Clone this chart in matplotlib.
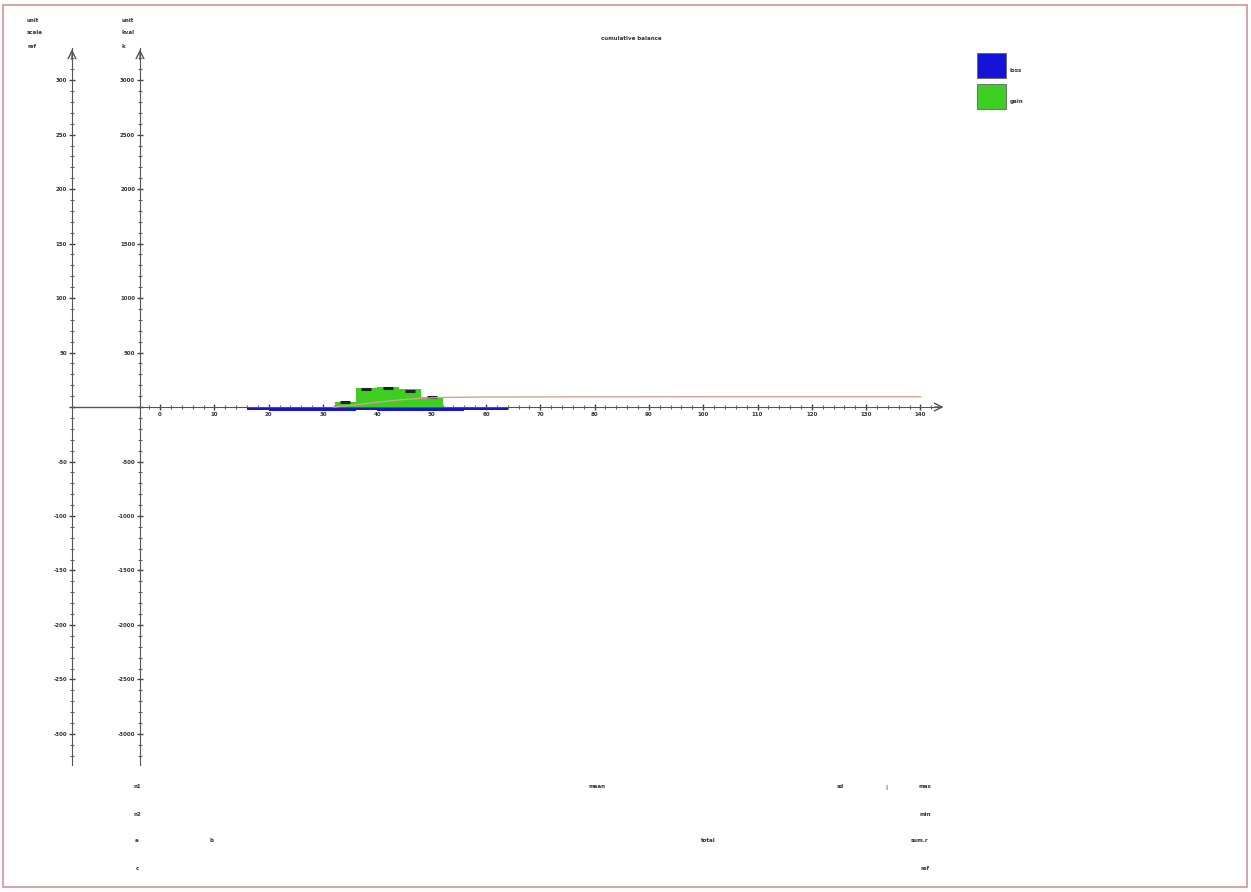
import matplotlib
matplotlib.use("Agg")
import matplotlib.pyplot as plt
from matplotlib.patches import Rectangle
from matplotlib.ticker import MultipleLocator, FuncFormatter
import numpy as np

# data (x in 10s, y in units of the inner axis)
x_ticks = [0, 10, 20, 30, 40, 50, 60, 70, 80, 90, 100, 110, 120, 130, 140]

gain_x = [30.5, 34, 38, 42, 46, 50, 54]
gain_y = [0, 45, 175, 180, 170, 90, 0]

loss_x = [14, 18, 22, 26, 30, 34, 38, 42, 46, 50, 54, 58, 62, 66]
loss_y = [0, -25, -35, -35, -40, -35, -30, -35, -40, -40, -35, -30, -25, 0]

trend_x = [32, 36, 40, 44, 48, 52, 60, 80, 100, 120, 140]
trend_y = [0, 20, 45, 65, 80, 88, 92, 94, 95, 95, 95]

cap_x = [34, 38, 42, 46, 50]
cap_y = [45, 165, 175, 145, 90]

legend_names = ["loss", "gain"]

blue = "#1414d8"
green = "#3ccf22"
txt = "#333333"
fs = 4

fig = plt.figure(figsize=(12.51, 8.92), dpi=100)
W, H = 1251, 892

# axes between pixel x 140..940 and y 48..765
ax = fig.add_axes([140 / W, 1 - 765 / H, 800 / W, 717 / H])
ax.set_xlim(-3.7, 143.6)
ax.set_ylim(-3285, 3295)

ax.fill_between(loss_x, loss_y, 0, step="mid", color=blue, lw=0, zorder=2)
ax.fill_between(gain_x, gain_y, 0, step="mid", color=green, lw=0, zorder=3)
ax.plot(cap_x, cap_y, ls="none", marker="_", ms=7, mew=2.2, color="#222222", zorder=4)
ax.plot(trend_x, trend_y, color="#d9a090", lw=1, zorder=4)

for s in ["top", "right"]:
    ax.spines[s].set_visible(False)
ax.spines["bottom"].set_position(("data", 0))
ax.spines["bottom"].set_color("#555555")
ax.spines["left"].set_color("#555555")

no_zero = FuncFormatter(lambda v, p: "" if abs(v) < 1e-9 else "%d" % v)

ax.set_xticks(x_ticks)
ax.xaxis.set_minor_locator(MultipleLocator(2))
ax.yaxis.set_major_locator(MultipleLocator(500))
ax.yaxis.set_minor_locator(MultipleLocator(100))
ax.yaxis.set_major_formatter(no_zero)
ax.tick_params(axis="both", which="major", direction="inout", length=5, width=1,
               labelsize=fs, labelcolor=txt, pad=1, color="#444444")
ax.tick_params(axis="both", which="minor", direction="inout", length=3, width=0.8,
               color="#666666")
for t in ax.get_xticklabels() + ax.get_yticklabels():
    t.set_fontweight("bold")

# outer axis
off = -68 / 800
sec = ax.secondary_yaxis(off, functions=(lambda y: y / 10, lambda y: y * 10))
sec.yaxis.set_major_locator(MultipleLocator(50))
sec.yaxis.set_minor_locator(MultipleLocator(10))
sec.yaxis.set_major_formatter(no_zero)
sec.spines["left"].set_color("#555555")
sec.tick_params(axis="y", which="major", direction="inout", length=5, width=1,
                labelsize=fs, labelcolor=txt, pad=1, color="#444444")
sec.tick_params(axis="y", which="minor", direction="inout", length=3, width=0.8,
                color="#666666")
for t in sec.get_yticklabels():
    t.set_fontweight("bold")

ytr = ax.get_yaxis_transform()
ax.plot([off, 0], [0, 0], color="#555555", lw=1, transform=ytr, clip_on=False)

# arrows
arr = dict(arrowstyle="->", color="#555555", lw=1, mutation_scale=14)
ax.annotate("", xy=(1.008, 0), xytext=(0.99, 0), xycoords=ytr, textcoords=ytr, arrowprops=arr)
for xa in [0, off]:
    ax.annotate("", xy=(xa, 1.002), xytext=(xa, 0.98), xycoords="axes fraction",
                textcoords="axes fraction", arrowprops=arr)

# title and axis captions
fig.text(631 / W, 1 - 39 / H, "cumulative balance", ha="center", va="center",
         fontsize=fs, fontweight="bold", color=txt)
for x0, lines in [(27, ["unit", "scale", "ref"]), (122, ["unit", "kval", "k"])]:
    for i, s in enumerate(lines):
        fig.text(x0 / W, 1 - (20 + 13 * i) / H, s, ha="left", va="center",
                 fontsize=fs, fontweight="bold", color=txt)

# legend boxes
for i, (name, c) in enumerate(zip(legend_names, [blue, green])):
    y0 = 53 + 31 * i
    fig.patches.append(Rectangle((977 / W, 1 - (y0 + 25) / H), 29 / W, 25 / H,
                                 transform=fig.transFigure, facecolor=c,
                                 edgecolor="#666666", lw=0.6))
    fig.text(1010 / W, 1 - (y0 + 17) / H, name, ha="left", va="center",
             fontsize=fs, fontweight="bold", color=txt)

# footer notes
notes = [
    (137, 787, "n1"), (597, 787, "mean"), (840, 787, "sd"), (886, 787, "|"), (925, 787, "max"),
    (137, 814, "n2"), (925, 814, "min"),
    (137, 841, "a"), (211, 841, "b"), (708, 841, "total"), (920, 841, "sum.r"),
    (137, 868, "c"), (925, 868, "ref"),
]
for xp, yp, s in notes:
    fig.text(xp / W, 1 - yp / H, s, ha="center", va="center", fontsize=fs,
             fontweight="bold", color=txt)

# frame
fig.patches.append(Rectangle((3 / W, 5 / H), 1244 / W, 882 / H, transform=fig.transFigure,
                             fill=False, edgecolor="#d4a8a8", lw=1.5))

fig.savefig("out.png", dpi=100)
